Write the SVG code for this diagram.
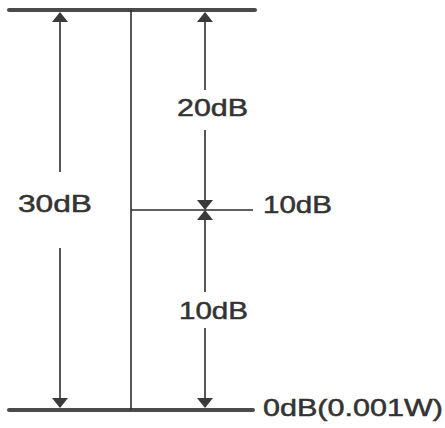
<svg xmlns="http://www.w3.org/2000/svg" width="445" height="428" viewBox="0 0 445 428">
<style>
.bar{stroke:#4a4a4a;stroke-width:4;stroke-linecap:round;fill:none}
.ln{stroke:#2e2e2e;stroke-width:1.6;fill:none}
.ah{fill:#3a3a3a}
.lbl{font-family:"Liberation Sans",Arial,sans-serif;font-size:24px;fill:#333;stroke:#333;stroke-width:0.5}
</style>
<defs>
<path id="up" d="M0,0 L-8,10 L8,10 Z"/>
<path id="down" d="M0,0 L-8,-10 L8,-10 Z"/>
</defs>
<g id="top-level">
<line class="bar" x1="9" y1="10" x2="255" y2="10"/>
</g>
<g id="zero-level">
<line class="bar" x1="9" y1="410" x2="253" y2="410"/>
<text class="lbl" x="263" y="416" textLength="180" lengthAdjust="spacingAndGlyphs">0dB(0.001W)</text>
</g>
<g id="mid-level">
<text class="lbl" x="263" y="213" textLength="69" lengthAdjust="spacingAndGlyphs">10dB</text>
</g>
<g id="connectors">
<line class="ln" x1="131" y1="10" x2="131" y2="410"/>
<line class="ln" x1="131" y1="210" x2="253" y2="210"/>
<line class="ln" x1="60" y1="18" x2="60" y2="172"/>
<line class="ln" x1="60" y1="248" x2="60" y2="402"/>
<use href="#up" class="ah" x="60" y="12"/>
<use href="#down" class="ah" x="60" y="408"/>
<line class="ln" x1="205" y1="18" x2="205" y2="90"/>
<line class="ln" x1="205" y1="130" x2="205" y2="205"/>
<line class="ln" x1="205" y1="215" x2="205" y2="292"/>
<line class="ln" x1="205" y1="328" x2="205" y2="402"/>
<use href="#up" class="ah" x="205" y="12"/>
<use href="#down" class="ah" x="205" y="210"/>
<use href="#up" class="ah" x="205" y="210"/>
<use href="#down" class="ah" x="205" y="408"/>
</g>
<g id="labels">
<text class="lbl" x="177" y="116" textLength="71" lengthAdjust="spacingAndGlyphs">20dB</text>
<text class="lbl" x="18" y="212" textLength="74" lengthAdjust="spacingAndGlyphs">30dB</text>
<text class="lbl" x="179" y="319" textLength="69" lengthAdjust="spacingAndGlyphs">10dB</text>
</g>
</svg>
